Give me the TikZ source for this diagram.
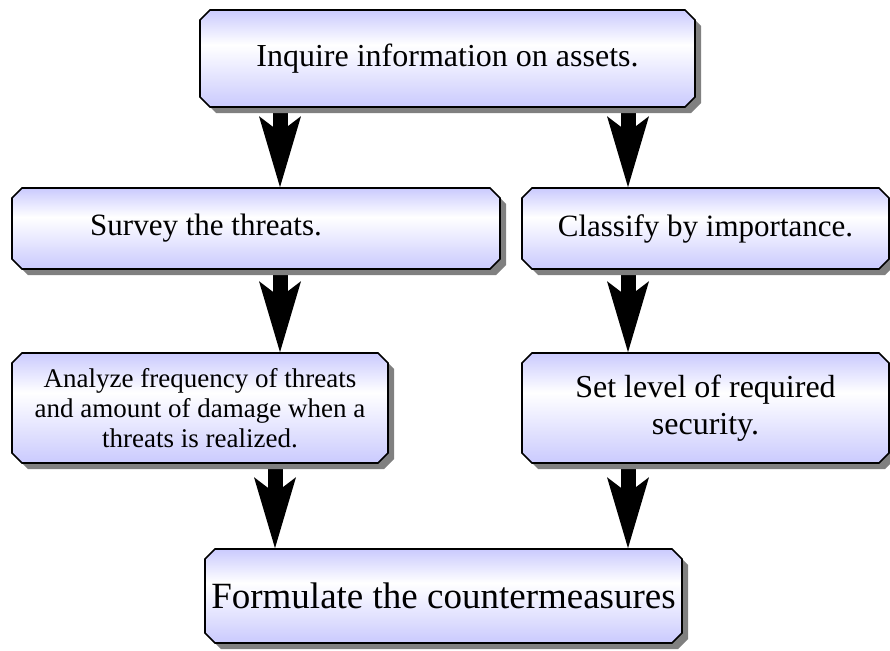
\documentclass[tikz,border=0pt]{standalone}
\usepackage{fontspec}
\setmainfont{Liberation Serif}
\usetikzlibrary{shapes.misc,shadows,arrows.meta,backgrounds}
\definecolor{lav}{RGB}{202,202,254}
\pgfdeclareverticalshading{boxshade}{100bp}{color(0bp)=(lav); color(25bp)=(lav); color(57bp)=(white); color(75bp)=(lav); color(100bp)=(lav)}
\tikzset{
  box/.style={chamfered rectangle, chamfered rectangle xsep=5pt, chamfered rectangle ysep=5pt,
    draw=black, line width=1.6pt, shading=boxshade, inner sep=0pt, align=center,
    drop shadow={shadow xshift=6pt, shadow yshift=-6pt, fill=black!50, opacity=1}},
  blockarrow/.style={line width=15pt, -{Stealth[length=71pt, width=42pt, inset=16pt, line width=0pt]}},
}
\begin{document}
\begin{tikzpicture}[x=1pt,y=-1pt]
\useasboundingbox (0,0) rectangle (890,650);
\node[box, minimum width=495pt, minimum height=97pt, font=\fontsize{32}{38}\selectfont] (top) at (447.5,58.5) {Inquire information on assets.};
\node[box, minimum width=488pt, minimum height=81pt, font=\fontsize{31}{37}\selectfont] (survey) at (256,228.5) {Survey the threats.\hspace*{100pt}};
\node[box, minimum width=367pt, minimum height=81pt, font=\fontsize{31}{37}\selectfont] (classify) at (705.5,228.5) {Classify by importance.};
\node[box, minimum width=376pt, minimum height=110pt, font=\fontsize{27}{30}\selectfont] (analyze) at (200,408) {Analyze frequency of threats\\and amount of damage when a\\threats is realized.};
\node[box, minimum width=367pt, minimum height=110pt, font=\fontsize{32}{37}\selectfont] (setlevel) at (705.5,408) {Set level of required\\security.};
\node[box, minimum width=477pt, minimum height=94pt, font=\fontsize{37}{42}\selectfont] (formulate) at (443.5,596) {Formulate the countermeasures};
\coordinate (xl) at (280,0);
\coordinate (xl3) at (275,0);
\coordinate (xr) at (628,0);
\begin{scope}[on background layer]
\draw[blockarrow] (top.south -| xl) -- (survey.north -| xl);
\draw[blockarrow] (top.south -| xr) -- (classify.north -| xr);
\draw[blockarrow] (survey.south -| xl) -- (analyze.north -| xl);
\draw[blockarrow] (classify.south -| xr) -- (setlevel.north -| xr);
\draw[blockarrow] (analyze.south -| xl3) -- (formulate.north -| xl3);
\draw[blockarrow] (setlevel.south -| xr) -- (formulate.north -| xr);
\end{scope}
\end{tikzpicture}
\end{document}
